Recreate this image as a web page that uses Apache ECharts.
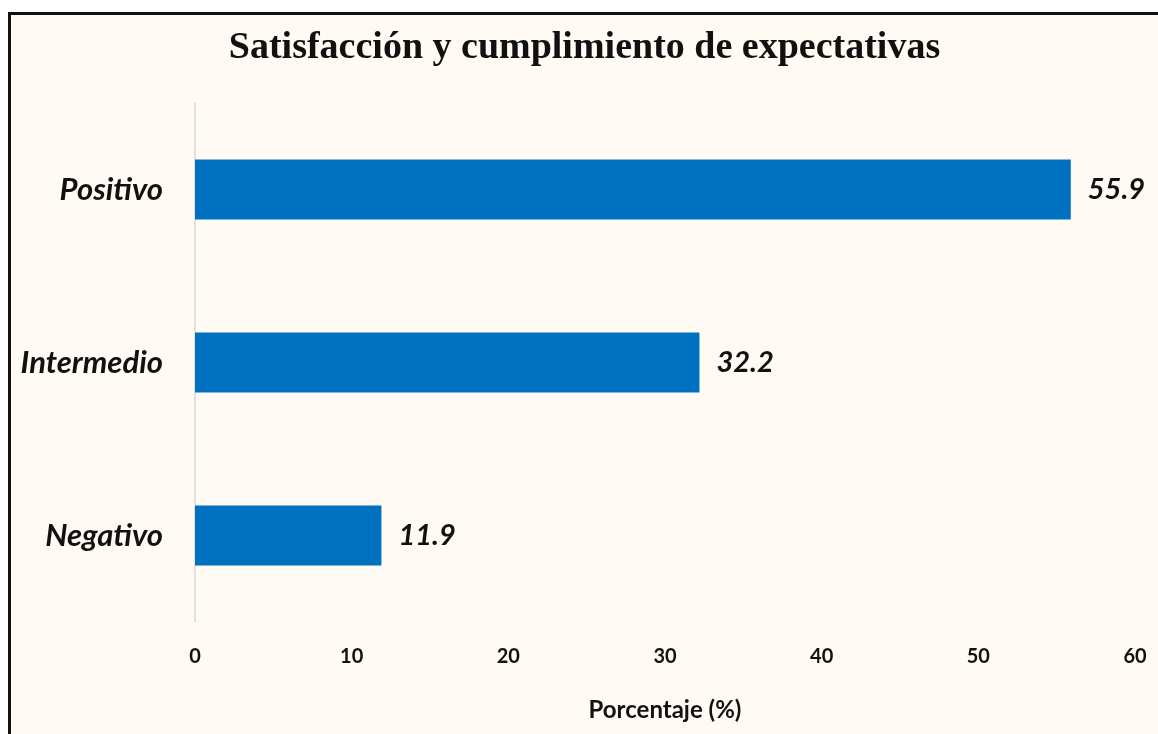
<!DOCTYPE html>
<html>
<head>
<meta charset="utf-8">
<script src="https://cdn.jsdelivr.net/npm/echarts@6/dist/echarts.min.js"></script>
<style>
  html, body { margin: 0; padding: 0; background: #ffffff; }
  #wrap {
    position: absolute; left: 8px; top: 12px;
    width: 1147px; height: 719px;
    border-top: 3px solid #111; border-left: 3px solid #111;
    background: #fffbf4;
  }
  #chart { width: 1147px; height: 719px; }
</style>
</head>
<body>
<div id="wrap"><div id="chart"></div></div>
<script>
const categories = ['Negativo', 'Intermedio', 'Positivo']
const values = [11.9, 32.2, 55.9]
const xTicks = [0, 10, 20, 30, 40, 50, 60]

const chart = echarts.init(document.getElementById('chart'))

chart.setOption({
  backgroundColor: '#fffbf4',
  title: {
    text: 'Satisfacción y cumplimiento de expectativas',
    left: 'center',
    top: 9,
    textStyle: {
      fontFamily: 'Liberation Serif',
      fontWeight: 'bold',
      fontSize: 38,
      color: '#111'
    }
  },
  grid: { left: 184, right: 23, top: 88, bottom: 112 },
  xAxis: {
    type: 'value',
    min: xTicks[0],
    max: xTicks[xTicks.length - 1],
    interval: 10,
    name: 'Porcentaje (%)',
    nameLocation: 'middle',
    nameGap: 76,
    nameTextStyle: { fontFamily: 'Lato', fontWeight: 'bold', fontSize: 24, color: '#111' },
    axisLine: { show: false },
    axisTick: { show: false },
    splitLine: { show: false },
    axisLabel: { margin: 25, fontFamily: 'Lato', fontWeight: 'bold', fontSize: 20, color: '#111' }
  },
  yAxis: {
    type: 'category',
    data: categories,
    axisLine: { show: true, lineStyle: { color: '#d9d9d9', width: 1.5 } },
    axisTick: { show: false },
    axisLabel: {
      margin: 32,
      fontFamily: 'Lato',
      fontWeight: 'bold',
      fontStyle: 'italic',
      fontSize: 31,
      color: '#111'
    }
  },
  series: [{
    type: 'bar',
    data: values,
    barWidth: 60,
    itemStyle: { color: '#0070c0' },
    label: {
      show: true,
      position: 'right',
      distance: 17,
      fontFamily: 'Lato',
      fontWeight: 'bold',
      fontStyle: 'italic',
      fontSize: 29,
      color: '#111'
    }
  }]
})
</script>
</body>
</html>
